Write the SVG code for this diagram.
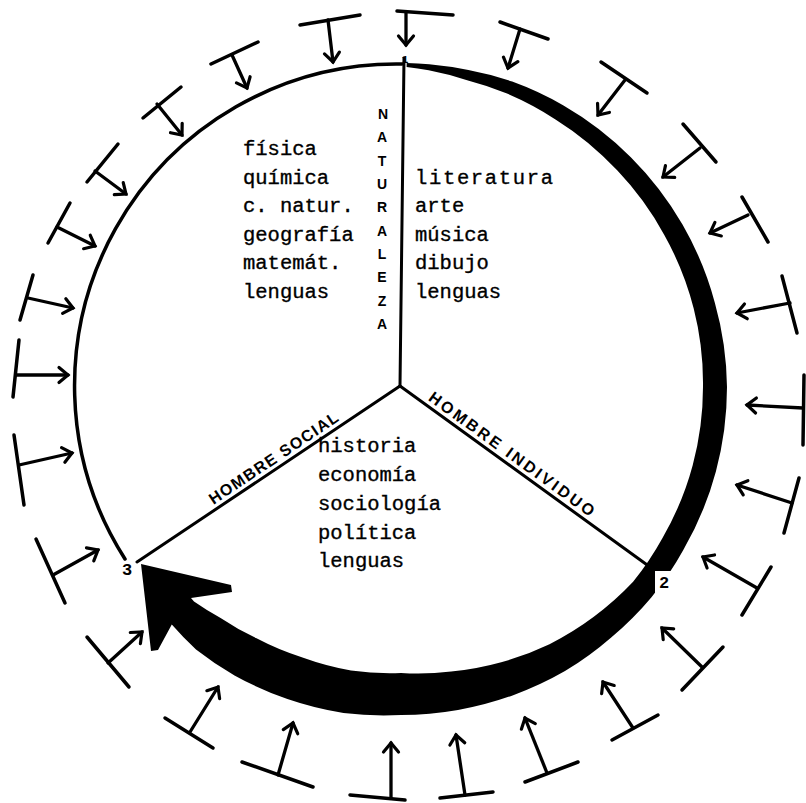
<svg xmlns="http://www.w3.org/2000/svg" width="806" height="803" viewBox="0 0 806 803">
<defs>
<style>
.t{font-family:"Liberation Mono","Courier New",monospace;font-size:20.5px;fill:#000;stroke:#000;stroke-width:0.35}
.cap{font-family:"Liberation Sans",Arial,sans-serif;font-weight:bold;font-size:14px;fill:#000}
.lab{font-family:"Liberation Sans",Arial,sans-serif;font-weight:bold;font-size:16px;fill:#000}
.num{font-family:"Liberation Mono","Courier New",monospace;font-weight:bold;font-size:17px;fill:#000;text-anchor:middle}
.ln{stroke:#000;stroke-width:3.5;stroke-linecap:round;fill:none}
.sp{stroke:#000;stroke-width:3;stroke-linecap:round;fill:none}
.st{stroke:#000;stroke-width:3.3;stroke-linecap:round;fill:none;marker-end:url(#ah)}
</style>
<marker id="ah" markerUnits="userSpaceOnUse" markerWidth="20" markerHeight="20" viewBox="0 0 20 20" refX="13" refY="10" orient="auto">
<path d="M4,2.5 L13,10 L4,17.5" fill="none" stroke="#000" stroke-width="3.2" stroke-linecap="round" stroke-linejoin="miter"/>
</marker>
</defs>
<rect width="806" height="803" fill="#fff"/>

<g id="circle">
<path class="ln" d="M125 559 A322 322 0 0 1 402 64"/>
</g>

<g id="band">
<path fill="#000" d="M406.7 63 A324 324 0 0 1 429.2 64.2 A324 324 0 0 1 468.4 70.1 A325 325 0 0 1 512.2 81.6 A325 325 0 0 1 563.5 105.5 A325 325 0 0 1 630.8 157.2 A325 325 0 0 1 682.5 224.5 A325 325 0 0 1 714.9 302.9 A326 326 0 0 1 727 387 A326 326 0 0 1 715.9 471.4 A326 326 0 0 1 683.3 550 A327 327 0 0 1 651.5 597.2 A327 327 0 0 1 611.2 637.5 A328 328 0 0 1 565 671.1 A328 328 0 0 1 513.2 695.2 A328 328 0 0 1 458 710 A328 328 0 0 1 401 715 A330 330 0 0 1 343.5 713 A332 332 0 0 1 287.4 699 A333 333 0 0 1 234.5 675.4 A333 333 0 0 1 196 649.4 A332 332 0 0 1 171.8 624.4 L158 650 L151 651 L141 564 L231 585 L232 592 L191 598 L194 601.4 A295 295 0 0 0 220.6 617.9 A291 291 0 0 0 256 638.1 A289 289 0 0 0 302.5 657.6 A288 288 0 0 0 351 670.6 A287 287 0 0 0 401 673 A287 287 0 0 0 451.2 671.6 A291 291 0 0 0 501.2 662.3 A295 295 0 0 0 549.5 644.2 A298 298 0 0 0 593.8 616.8 A301 301 0 0 0 633.1 581.8 A302 302 0 0 0 662.5 538 A302 302 0 0 0 692.7 465.2 A302 302 0 0 0 703 387 A302 302 0 0 0 693.7 308.6 A303 303 0 0 0 664.3 235 A305 305 0 0 0 617.4 170.6 A307 307 0 0 0 555.5 119.4 A310 310 0 0 0 507.7 93.8 A313 313 0 0 0 466.3 79.9 A316 316 0 0 0 428.7 70.2 A319 319 0 0 0 406.6 67 Z"/>
</g>

<g id="spokes">
<path class="sp" d="M404 58 L400 386"/>
<path class="sp" d="M400 386 L137 562"/>
<path class="sp" d="M400 386 L650 567"/>
</g>

<g id="node-1">
<text class="num" x="405" y="63" style="font-size:11px">1</text>
</g>
<g id="node-2">
<rect x="655" y="571" width="18" height="27" fill="#fff"/>
<text class="num" x="664" y="588">2</text>
</g>
<g id="node-3">
<text class="num" x="127" y="575">3</text>
</g>

<g id="naturaleza" class="cap" text-anchor="middle">
<text x="383" y="119">N</text>
<text x="382" y="142">A</text>
<text x="382" y="166">T</text>
<text x="382" y="189">U</text>
<text x="382" y="212">R</text>
<text x="382" y="236">A</text>
<text x="382" y="259">L</text>
<text x="382" y="282">E</text>
<text x="382" y="306">Z</text>
<text x="382" y="329">A</text>
</g>

<g id="hombre-social">
<text class="lab" transform="translate(273.2 457.7) rotate(-33.8)" x="0" y="6" text-anchor="middle" textLength="152" lengthAdjust="spacing">HOMBRE SOCIAL</text>
</g>
<g id="hombre-individuo">
<text class="lab" transform="translate(512 453.6) rotate(35.9)" x="0" y="6" text-anchor="middle" textLength="200" lengthAdjust="spacing">HOMBRE INDIVIDUO</text>
</g>

<g id="sector-naturaleza">
<text class="t" x="243" y="155">física</text>
<text class="t" x="243" y="183.5">química</text>
<text class="t" x="243" y="212">c. natur.</text>
<text class="t" x="243" y="240.5">geografía</text>
<text class="t" x="243" y="269">matemát.</text>
<text class="t" x="243" y="297.5">lenguas</text>
</g>
<g id="sector-individuo">
<text class="t" x="415" y="183.5" textLength="138" lengthAdjust="spacing">literatura</text>
<text class="t" x="415" y="212">arte</text>
<text class="t" x="415" y="240.5">música</text>
<text class="t" x="415" y="269">dibujo</text>
<text class="t" x="415" y="297.5">lenguas</text>
</g>
<g id="sector-social">
<text class="t" x="318" y="452">historia</text>
<text class="t" x="318" y="481">economía</text>
<text class="t" x="318" y="510">sociología</text>
<text class="t" x="318" y="539">política</text>
<text class="t" x="318" y="567">lenguas</text>
</g>

<g id="connectors">
<g id="a1"><path class="ln" d="M397 11 L453 15"/><path class="st" d="M406 13 L406 45"/></g>
<g id="a2"><path class="ln" d="M300 25 L360 15"/><path class="st" d="M328 20 L333 62"/></g>
<g id="a3"><path class="ln" d="M211 64 L258 42"/><path class="st" d="M232 55 L247 88"/></g>
<g id="a4"><path class="ln" d="M143 118 L181 87"/><path class="st" d="M157 104 L182 135"/></g>
<g id="a5"><path class="ln" d="M87 182 L118 144"/><path class="st" d="M95 171 L126 194"/></g>
<g id="a6"><path class="ln" d="M48 243 L70 203"/><path class="st" d="M57 227 L95 246"/></g>
<g id="a7"><path class="ln" d="M33 275 L20 320"/><path class="st" d="M28 298 L73 308"/></g>
<g id="a8"><path class="ln" d="M19 340 L13 397"/><path class="st" d="M16 375 L68 375"/></g>
<g id="a9"><path class="ln" d="M14 435 L24 505"/><path class="st" d="M19 465 L72 453"/></g>
<g id="a10"><path class="ln" d="M36 539 L65 603"/><path class="st" d="M53 575 L98 550"/></g>
<g id="a11"><path class="ln" d="M87 637 L129 687"/><path class="st" d="M108 663 L142 632"/></g>
<g id="a12"><path class="ln" d="M165 718 L213 748"/><path class="st" d="M190 732 L218 687"/></g>
<g id="a13"><path class="ln" d="M242 762 L313 787"/><path class="st" d="M278 775 L293 723"/></g>
<g id="a14"><path class="ln" d="M350 795 L405 800"/><path class="st" d="M391 798 L391 743"/></g>
<g id="a15"><path class="ln" d="M440 798 L493 792"/><path class="st" d="M465 795 L456 735"/></g>
<g id="a16"><path class="ln" d="M525 782 L578 762"/><path class="st" d="M547 773 L525 718"/></g>
<g id="a17"><path class="ln" d="M612 740 L658 715"/><path class="st" d="M633 728 L603 682"/></g>
<g id="a18"><path class="ln" d="M682 690 L723 647"/><path class="st" d="M702 667 L662 628"/></g>
<g id="a19"><path class="ln" d="M742 615 L771 567"/><path class="st" d="M757 588 L703 557"/></g>
<g id="a20"><path class="ln" d="M799 478 L784 533"/><path class="st" d="M792 503 L737 485"/></g>
<g id="a21"><path class="ln" d="M804 375 L803 445"/><path class="st" d="M803 408 L747 405"/></g>
<g id="a22"><path class="ln" d="M782 276 L797 333"/><path class="st" d="M790 303 L737 313"/></g>
<g id="a23"><path class="ln" d="M742 197 L768 242"/><path class="st" d="M748 215 L710 233"/></g>
<g id="a24"><path class="ln" d="M683 124 L716 162"/><path class="st" d="M700 148 L663 177"/></g>
<g id="a25"><path class="ln" d="M601 62 L647 93"/><path class="st" d="M625 80 L598 115"/></g>
<g id="a26"><path class="ln" d="M500 22 L548 39"/><path class="st" d="M520 29 L508 68"/></g>
</g>
</svg>
